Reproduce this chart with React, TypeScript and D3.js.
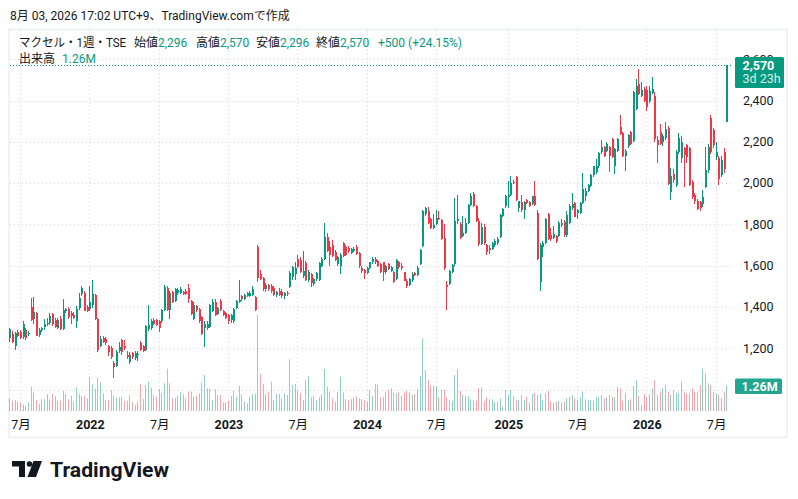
import React, { useEffect, useRef } from 'react';
import * as d3 from 'd3';

// one row per week: [open, high, low, close, volume (millions)]
type Week = [number, number, number, number, number];

const weeks2021: Week[] = [
    [1250, 1300, 1230, 1292, 0.63], [1268, 1285, 1225, 1232, 0.51], [1213, 1280, 1190, 1272, 0.54],
    [1280, 1290, 1255, 1262, 0.46], [1278, 1290, 1245, 1250, 0.41], [1255, 1330, 1245, 1318, 0.30],
    [1290, 1300, 1240, 1250, 0.25], [1268, 1285, 1260, 1276, 0.41], [1400, 1445, 1330, 1338, 1.20],
    [1340, 1450, 1320, 1375, 0.91], [1370, 1375, 1260, 1262, 0.54], [1265, 1300, 1255, 1290, 0.35],
    [1290, 1305, 1280, 1300, 0.58], [1305, 1340, 1290, 1320, 0.58], [1318, 1345, 1310, 1322, 0.84],
    [1322, 1370, 1315, 1355, 0.58], [1365, 1370, 1310, 1320, 0.84], [1335, 1345, 1300, 1302, 0.74],
    [1300, 1345, 1295, 1335, 0.51], [1340, 1355, 1290, 1295, 0.51], [1295, 1440, 1290, 1385, 1.00],
    [1380, 1395, 1370, 1390, 0.84], [1392, 1400, 1340, 1350, 0.58], [1370, 1380, 1320, 1355, 0.76],
    [1360, 1375, 1340, 1345, 0.46], [1330, 1405, 1300, 1392, 1.17], [1395, 1470, 1385, 1445, 0.84],
    [1465, 1500, 1455, 1490, 0.74], [1470, 1480, 1380, 1382, 0.74], [1400, 1410, 1375, 1380, 0.63],
];

const weeks2022: Week[] = [
    [1390, 1500, 1380, 1425, 1.67], [1410, 1530, 1395, 1465, 1.32], [1460, 1465, 1335, 1340, 1.12],
    [1340, 1345, 1180, 1190, 1.65], [1210, 1260, 1205, 1245, 1.40], [1250, 1260, 1225, 1230, 0.87],
    [1245, 1255, 1215, 1225, 0.54], [1210, 1215, 1165, 1180, 0.54], [1200, 1210, 1150, 1160, 1.04],
    [1130, 1140, 1055, 1110, 0.76], [1115, 1190, 1110, 1180, 0.66], [1185, 1230, 1175, 1205, 0.68],
    [1240, 1245, 1170, 1180, 0.71], [1210, 1240, 1190, 1200, 0.51], [1170, 1185, 1150, 1160, 0.51],
    [1135, 1180, 1125, 1168, 0.79], [1175, 1180, 1150, 1160, 0.43], [1155, 1185, 1145, 1178, 0.30],
    [1170, 1185, 1140, 1172, 0.46], [1228, 1235, 1185, 1192, 1.34], [1210, 1215, 1180, 1188, 0.59],
    [1190, 1315, 1185, 1310, 1.29], [1292, 1410, 1285, 1312, 1.45], [1300, 1340, 1290, 1330, 1.16],
    [1335, 1345, 1315, 1320, 0.79], [1335, 1340, 1310, 1315, 0.71], [1330, 1335, 1280, 1300, 1.09],
    [1333, 1390, 1325, 1385, 0.87], [1385, 1505, 1380, 1495, 1.37], [1490, 1500, 1380, 1385, 2.10],
    [1385, 1480, 1340, 1470, 1.37], [1475, 1480, 1420, 1425, 0.63], [1430, 1490, 1425, 1485, 0.63],
    [1470, 1490, 1460, 1482, 0.76], [1470, 1495, 1465, 1485, 0.92], [1475, 1480, 1460, 1465, 0.84],
    [1478, 1485, 1460, 1464, 0.63], [1490, 1510, 1420, 1440, 0.96], [1430, 1435, 1360, 1365, 0.96],
    [1340, 1425, 1335, 1410, 0.71], [1405, 1410, 1375, 1385, 0.74], [1390, 1395, 1325, 1330, 0.87],
    [1350, 1355, 1265, 1270, 1.42], [1300, 1330, 1205, 1318, 1.78], [1300, 1330, 1290, 1320, 1.12],
    [1305, 1415, 1300, 1410, 1.12], [1380, 1440, 1375, 1425, 0.54], [1425, 1440, 1355, 1362, 1.09],
    [1365, 1400, 1360, 1395, 0.79], [1430, 1440, 1380, 1385, 0.79], [1380, 1385, 1355, 1360, 0.43],
    [1370, 1375, 1340, 1345, 0.43],
];

const weeks2023: Week[] = [
    [1360, 1365, 1320, 1330, 0.51], [1335, 1365, 1325, 1360, 0.74], [1330, 1395, 1325, 1390, 1.00],
    [1395, 1435, 1390, 1430, 0.71], [1425, 1530, 1420, 1435, 1.25], [1455, 1460, 1430, 1440, 0.84],
    [1440, 1465, 1435, 1458, 0.46], [1455, 1475, 1450, 1467, 0.38], [1455, 1480, 1450, 1468, 0.71],
    [1460, 1500, 1455, 1485, 0.84], [1450, 1455, 1380, 1385, 0.87], [1690, 1700, 1520, 1540, 4.75],
    [1560, 1580, 1530, 1538, 1.83], [1540, 1545, 1478, 1485, 1.34], [1485, 1515, 1475, 1505, 0.84],
    [1505, 1510, 1480, 1488, 0.96], [1500, 1510, 1470, 1480, 1.45], [1490, 1500, 1455, 1460, 0.54],
    [1460, 1480, 1450, 1475, 0.84], [1480, 1490, 1455, 1460, 0.84], [1475, 1485, 1445, 1455, 0.63],
    [1455, 1475, 1440, 1470, 0.87], [1470, 1480, 1455, 1465, 0.79], [1495, 1575, 1490, 1565, 2.56],
    [1545, 1600, 1530, 1595, 1.29], [1560, 1620, 1530, 1590, 1.34], [1635, 1650, 1590, 1595, 1.00],
    [1630, 1640, 1565, 1570, 0.87], [1550, 1670, 1540, 1575, 0.54], [1615, 1625, 1525, 1530, 1.53],
    [1530, 1580, 1520, 1570, 1.73], [1560, 1565, 1495, 1515, 0.68], [1510, 1540, 1500, 1535, 0.74],
    [1535, 1570, 1525, 1565, 0.54], [1530, 1620, 1525, 1615, 0.68], [1600, 1640, 1595, 1632, 0.84],
    [1635, 1805, 1630, 1740, 2.08], [1740, 1760, 1665, 1672, 1.20], [1690, 1720, 1600, 1650, 0.96],
    [1700, 1725, 1640, 1648, 0.63], [1665, 1675, 1625, 1630, 0.46], [1610, 1645, 1600, 1640, 0.96],
    [1600, 1660, 1560, 1650, 1.70], [1710, 1715, 1640, 1648, 0.91], [1690, 1700, 1645, 1650, 0.58],
    [1685, 1695, 1660, 1670, 0.54], [1664, 1685, 1655, 1680, 0.59], [1672, 1690, 1665, 1680, 0.68],
    [1690, 1700, 1650, 1655, 0.71], [1660, 1665, 1590, 1598, 0.63], [1590, 1600, 1565, 1575, 0.58],
    [1578, 1585, 1535, 1565, 0.54],
];

const weeks2024: Week[] = [
    [1565, 1595, 1560, 1590, 0.46], [1590, 1620, 1585, 1616, 1.04], [1616, 1640, 1610, 1632, 0.74],
    [1632, 1640, 1610, 1616, 1.34], [1624, 1630, 1595, 1600, 1.29], [1608, 1615, 1565, 1568, 0.68],
    [1616, 1620, 1528, 1568, 0.71], [1568, 1605, 1560, 1600, 0.96], [1608, 1615, 1580, 1584, 1.04],
    [1576, 1600, 1570, 1592, 1.12], [1568, 1575, 1515, 1520, 0.91], [1536, 1635, 1530, 1629, 0.87],
    [1619, 1625, 1585, 1592, 0.91], [1600, 1615, 1580, 1587, 0.74], [1568, 1572, 1525, 1528, 0.92],
    [1528, 1535, 1490, 1500, 1.00], [1505, 1540, 1500, 1536, 0.91], [1530, 1570, 1520, 1562, 0.79],
    [1565, 1570, 1550, 1555, 0.83], [1555, 1600, 1550, 1590, 1.07], [1610, 1680, 1605, 1677, 1.73],
    [1696, 1870, 1690, 1864, 3.60], [1850, 1885, 1840, 1878, 2.03], [1865, 1885, 1800, 1805, 1.53],
    [1824, 1830, 1780, 1784, 1.28], [1785, 1850, 1780, 1795, 1.24], [1800, 1870, 1795, 1830, 1.24],
    [1830, 1865, 1820, 1825, 0.68], [1820, 1825, 1725, 1730, 1.04], [1736, 1800, 1580, 1590, 1.04],
    [1507, 1525, 1384, 1496, 0.71], [1512, 1580, 1505, 1576, 0.54], [1571, 1610, 1565, 1603, 0.51],
    [1608, 1930, 1600, 1816, 1.78], [1815, 1945, 1800, 1825, 2.06], [1800, 1810, 1730, 1736, 1.00],
    [1745, 1840, 1740, 1760, 0.79], [1760, 1830, 1755, 1808, 0.74], [1808, 1900, 1800, 1896, 0.74],
    [1896, 1950, 1890, 1936, 0.58], [1947, 1955, 1885, 1891, 0.54], [1888, 1895, 1810, 1816, 0.51],
    [1816, 1830, 1695, 1704, 1.12], [1704, 1805, 1700, 1790, 1.17], [1790, 1800, 1700, 1710, 0.51],
    [1699, 1705, 1650, 1667, 0.68], [1685, 1700, 1655, 1675, 0.58], [1680, 1715, 1675, 1712, 0.58],
    [1700, 1730, 1690, 1720, 0.46], [1710, 1740, 1700, 1728, 0.46], [1741, 1850, 1735, 1848, 0.63],
    [1840, 1880, 1835, 1875, 0.21], [1888, 1945, 1880, 1939, 1.04],
];

const weeks2025: Week[] = [
    [1935, 2010, 1880, 1945, 0.79], [1944, 2035, 1940, 2003, 1.04], [2008, 2015, 1995, 2000, 0.74],
    [2029, 2035, 1915, 1917, 0.54], [1880, 1915, 1860, 1912, 0.54], [1910, 1945, 1860, 1868, 0.79],
    [1868, 1912, 1825, 1908, 0.54], [1917, 1925, 1900, 1904, 0.71], [1908, 1915, 1885, 1888, 0.41],
    [1900, 1940, 1895, 1936, 0.87], [1936, 2010, 1890, 1895, 0.91], [1856, 1870, 1630, 1632, 0.79],
    [1520, 1710, 1480, 1699, 0.87], [1690, 1720, 1640, 1712, 0.54], [1712, 1830, 1705, 1824, 0.87],
    [1849, 1855, 1725, 1728, 0.99], [1747, 1784, 1720, 1728, 0.46], [1736, 1793, 1730, 1752, 0.41],
    [1744, 1750, 1712, 1720, 0.46], [1744, 1815, 1740, 1809, 0.51], [1796, 1825, 1790, 1809, 0.41],
    [1812, 1820, 1740, 1747, 0.46], [1747, 1865, 1740, 1844, 0.63], [1809, 1898, 1800, 1890, 0.71],
    [1880, 1951, 1870, 1900, 0.79], [1906, 1910, 1835, 1838, 0.63], [1854, 1875, 1825, 1870, 0.54],
    [1854, 1910, 1850, 1903, 0.68], [1906, 2049, 1900, 1970, 0.96], [1938, 1975, 1914, 1962, 0.58],
    [1962, 1995, 1955, 1990, 0.54], [1987, 2045, 1980, 2039, 0.54], [2039, 2085, 2030, 2081, 0.51],
    [2052, 2117, 2045, 2081, 0.68], [2081, 2150, 2075, 2144, 0.71], [2150, 2209, 2140, 2173, 0.79],
    [2173, 2180, 2125, 2133, 0.63], [2157, 2200, 2150, 2189, 0.68], [2173, 2180, 2052, 2130, 0.79],
    [2214, 2220, 2120, 2125, 0.71], [2084, 2170, 2044, 2165, 0.68], [2157, 2220, 2150, 2214, 1.20],
    [2270, 2330, 2235, 2240, 1.12], [2243, 2250, 2128, 2133, 0.51], [2133, 2165, 2058, 2157, 0.91],
    [2178, 2240, 2170, 2233, 0.54], [2246, 2255, 2185, 2190, 0.58], [2206, 2445, 2200, 2440, 1.24],
    [2360, 2505, 2355, 2473, 1.53], [2481, 2554, 2425, 2432, 0.74], [2424, 2490, 2415, 2449, 0.30],
    [2457, 2465, 2395, 2400, 0.84],
];

const weeks2026: Week[] = [
    [2449, 2473, 2351, 2368, 0.71], [2400, 2473, 2390, 2446, 0.84], [2435, 2514, 2430, 2457, 1.12],
    [2420, 2440, 2200, 2214, 1.53], [2209, 2230, 2100, 2185, 0.79], [2246, 2287, 2185, 2190, 0.96],
    [2197, 2240, 2180, 2227, 1.12], [2219, 2295, 2210, 2263, 1.29], [2266, 2275, 1990, 1998, 0.96],
    [1957, 2075, 1920, 2033, 0.79], [2046, 2070, 2000, 2014, 1.04], [1989, 2160, 1980, 2152, 0.91],
    [2152, 2245, 2140, 2217, 0.87], [2120, 2230, 2100, 2201, 1.45], [2168, 2175, 1982, 2136, 0.96],
    [2185, 2190, 2100, 2128, 0.87], [2168, 2175, 1985, 1989, 0.87], [2006, 2015, 1925, 1932, 1.12],
    [1941, 1950, 1900, 1916, 0.96], [1916, 1925, 1870, 1875, 0.96], [1908, 1915, 1867, 1880, 1.29],
    [1900, 1965, 1885, 1935, 2.10], [1981, 2177, 1975, 2063, 1.86], [2063, 2190, 2050, 2177, 1.37],
    [2317, 2330, 2140, 2152, 1.29], [2258, 2265, 2170, 2185, 0.96], [2128, 2201, 2110, 2152, 0.87],
    [2120, 2130, 1989, 2022, 0.79], [2038, 2130, 2030, 2111, 0.63], [2152, 2168, 2050, 2070, 0.96],
    [2296, 2570, 2296, 2570, 1.26],
];

const firstWeek = new Date(2021, 5, 7);
const lastWeek = new Date(2026, 7, 3);

const priceGrid = [1000, 1200, 1400, 1600, 1800, 2000, 2200, 2400, 2600];
const priceLabels = [1200, 1400, 1600, 1800, 2000, 2200, 2400, 2600];

const timeTicks = [
    new Date(2021, 6, 5), new Date(2022, 0, 3), new Date(2022, 6, 4), new Date(2023, 0, 2),
    new Date(2023, 6, 3), new Date(2024, 0, 1), new Date(2024, 6, 1), new Date(2025, 0, 6),
    new Date(2025, 6, 7), new Date(2026, 0, 5), new Date(2026, 6, 6),
];
const timeLabels = ['7月', '2022', '7月', '2023', '7月', '2024', '7月', '2025', '7月', '2026', '7月'];

// legend groups: label and the value that follows it
const legendLabels = ['始値', '高値', '安値', '終値'];
const legendValues = ['2,296', '2,570', '2,296', '2,570'];
const legendX = [134, 196, 256, 316];

const lastPrice = 2570;
const lastVolume = '1.26M';

const UP = '#089981';
const DOWN = '#f23645';
const TEXT = '#131722';
const FONT = "Roboto, 'Noto Sans CJK JP', sans-serif";

const App: React.FC = () => {
    const svgRef = useRef<SVGSVGElement>(null);

    useEffect(() => {
        const svg = d3.select(svgRef.current);
        svg.selectAll('*').remove();

        const weeks = [...weeks2021, ...weeks2022, ...weeks2023, ...weeks2024, ...weeks2025, ...weeks2026];
        const dates = d3.timeMonday.range(firstWeek, d3.timeDay.offset(lastWeek, 1));

        const x = d3.scaleTime().domain([firstWeek, lastWeek]).range([10.4, 727.3]);
        const y = d3.scaleLinear().domain([1000, 2600]).range([389.6, 59.3]);
        const yVol = d3.scaleLinear().domain([0, 5]).range([411, 310]);
        const fmt = d3.format(',');

        const cx = (i: number) => Math.round(x(dates[i] ?? lastWeek));
        const isUp = (d: Week) => d[3] >= d[0];

        svg.append('rect').attr('width', 798).attr('height', 499).attr('fill', '#ffffff');

        // frame
        svg.append('rect')
            .attr('x', 9).attr('y', 29.5).attr('width', 778).attr('height', 408)
            .attr('fill', 'none').attr('stroke', '#eceef3').attr('stroke-width', 1.5);

        // grid
        const grid = svg.append('g').attr('stroke', '#d3d6dd').attr('stroke-dasharray', '1 3');
        grid.selectAll('line.h').data(priceGrid).join('line')
            .attr('class', 'h')
            .attr('x1', 10).attr('x2', 732)
            .attr('y1', (d) => Math.round(y(d)) + 0.5)
            .attr('y2', (d) => Math.round(y(d)) + 0.5);
        grid.selectAll('line.v').data(timeTicks).join('line')
            .attr('class', 'v')
            .attr('x1', (d) => Math.round(x(d)) - 0.5)
            .attr('x2', (d) => Math.round(x(d)) - 0.5)
            .attr('y1', 30).attr('y2', 411);

        // volume
        svg.append('g').selectAll('rect').data(weeks).join('rect')
            .attr('x', (d, i) => cx(i) - 1)
            .attr('width', 1)
            .attr('y', (d) => yVol(d[4]))
            .attr('height', (d) => 411 - yVol(d[4]))
            .attr('fill', (d) => (isUp(d) ? UP : DOWN))
            .attr('fill-opacity', 0.45);

        // candles
        const candles = svg.append('g').selectAll('g').data(weeks).join('g')
            .attr('fill', (d) => (isUp(d) ? UP : DOWN));
        candles.append('rect')
            .attr('x', (d, i) => cx(i) - 1)
            .attr('width', 1)
            .attr('y', (d) => Math.round(y(d[1])))
            .attr('height', (d) => Math.max(1, Math.round(y(d[2])) - Math.round(y(d[1]))));
        candles.append('rect')
            .attr('x', (d, i) => cx(i) - 1)
            .attr('width', 2)
            .attr('y', (d) => Math.round(y(Math.max(d[0], d[3]))))
            .attr('height', (d) => Math.max(1, Math.round(y(Math.min(d[0], d[3]))) - Math.round(y(Math.max(d[0], d[3])))));

        // last price line
        svg.append('line')
            .attr('x1', 10).attr('x2', 733)
            .attr('y1', Math.round(y(lastPrice)) + 0.5).attr('y2', Math.round(y(lastPrice)) + 0.5)
            .attr('stroke', UP).attr('stroke-dasharray', '1 2');

        // price axis
        svg.append('g').selectAll('text').data(priceLabels).join('text')
            .attr('x', 743).attr('y', (d) => y(d) + 4.3)
            .attr('font-family', FONT).attr('font-size', 12.5).attr('fill', TEXT)
            .text((d) => fmt(d));

        const priceTag = svg.append('g');
        priceTag.append('rect').attr('x', 735).attr('y', 57).attr('width', 49).attr('height', 31).attr('rx', 1.5).attr('fill', UP);
        priceTag.append('text').attr('x', 742.5).attr('y', 69.5)
            .attr('font-family', FONT).attr('font-size', 12.5).attr('font-weight', 700).attr('fill', '#fff')
            .text(fmt(lastPrice));
        priceTag.append('text').attr('x', 742.5).attr('y', 83)
            .attr('font-family', FONT).attr('font-size', 12.5).attr('fill', '#fff').attr('fill-opacity', 0.85)
            .text('3d 23h');

        const volTag = svg.append('g');
        volTag.append('rect').attr('x', 735).attr('y', 378.5).attr('width', 47).attr('height', 15.5).attr('rx', 1.5).attr('fill', '#22a68f');
        volTag.append('text').attr('x', 741.5).attr('y', 390.5)
            .attr('font-family', FONT).attr('font-size', 12.5).attr('font-weight', 700).attr('fill', '#fff')
            .text(lastVolume);

        // time axis
        svg.append('g').selectAll('text').data(timeTicks).join('text')
            .attr('x', (d) => x(d))
            .attr('y', 429)
            .attr('text-anchor', 'middle')
            .attr('font-family', FONT).attr('font-size', 12.5)
            .attr('font-weight', (d, i) => (timeLabels[i].length === 4 ? 700 : 400))
            .attr('fill', TEXT)
            .text((d, i) => timeLabels[i]);

        // header
        svg.append('text').attr('x', 10).attr('y', 19.5)
            .attr('font-family', FONT).attr('font-size', 12).attr('fill', TEXT)
            .text('8月 03, 2026 17:02 UTC+9、TradingView.comで作成');

        const head = svg.append('g').attr('font-family', FONT).attr('font-size', 12);
        head.append('text').attr('x', 19).attr('y', 46.5).attr('fill', TEXT)
            .attr('textLength', 107).attr('lengthAdjust', 'spacingAndGlyphs')
            .text('マクセル・1週・TSE');
        const groups = head.selectAll('text.grp').data(legendLabels).join('text')
            .attr('class', 'grp')
            .attr('x', (d, i) => legendX[i]).attr('y', 46.5);
        groups.append('tspan').attr('fill', TEXT).text((d) => d);
        groups.append('tspan').attr('fill', UP).text((d, i) => legendValues[i]);
        head.append('text').attr('x', 378).attr('y', 46.5).attr('fill', UP).text('+500 (+24.15%)');

        head.append('text').attr('x', 19).attr('y', 63).attr('fill', TEXT).text('出来高');
        head.append('text').attr('x', 62).attr('y', 63).attr('fill', UP).text(lastVolume);

        // logo
        const logo = svg.append('g').attr('fill', TEXT);
        logo.append('rect').attr('x', 12).attr('y', 461).attr('width', 13).attr('height', 5.5);
        logo.append('rect').attr('x', 19).attr('y', 461).attr('width', 6).attr('height', 16);
        logo.append('circle').attr('cx', 29.5).attr('cy', 464).attr('r', 2.8);
        logo.append('path').attr('d', 'M33.5,461 L42,461 L36,477 L27.5,477 Z');
        logo.append('text').attr('x', 50).attr('y', 476.5)
            .attr('font-family', FONT).attr('font-size', 20.5).attr('font-weight', 700)
            .attr('textLength', 119).attr('lengthAdjust', 'spacingAndGlyphs')
            .text('TradingView');
    }, []);

    return (
        <svg
            ref={svgRef}
            width={798}
            height={499}
            style={{ position: 'absolute', left: 0, top: 0, display: 'block' }}
        />
    );
};

export default App;
